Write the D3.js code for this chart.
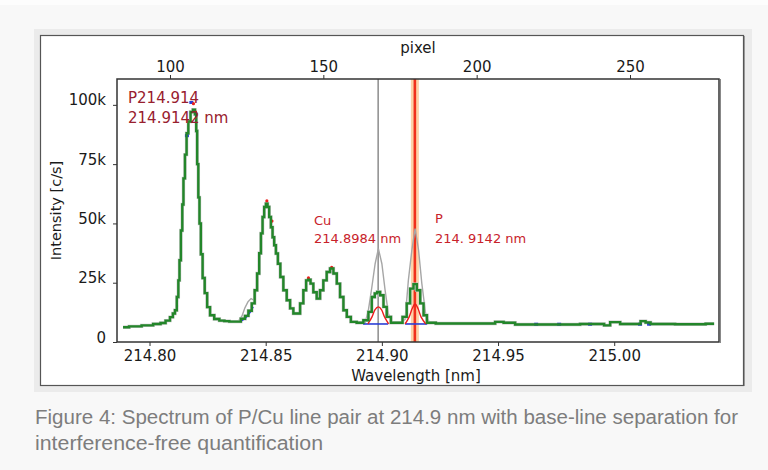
<!DOCTYPE html>
<html>
<head>
<meta charset="utf-8">
<script src="https://cdn.jsdelivr.net/npm/d3@7"></script>
<style>
  body { margin: 0; background: #f8f8f8; }
  svg { display: block; }
  .axis text { font-family: "DejaVu Sans", Verdana, sans-serif; font-size: 15px; fill: #1a1a1a; }
  .axis line { stroke: #333; }
</style>
</head>
<body>
<svg id="chart" width="768" height="470"></svg>
<script>
// measured spectrum (green), wavelength [nm] / intensity [k c/s]
const specWl = [214.7886, 214.7938, 214.7994, 214.8037, 214.8058, 214.8080, 214.8096, 214.8105, 214.8114, 214.8121,
  214.8127, 214.8131, 214.8139, 214.8143, 214.8149, 214.8156, 214.8163, 214.8171, 214.8182, 214.8192,
  214.8199, 214.8203, 214.8207, 214.8213, 214.8217, 214.8225, 214.8232, 214.8243, 214.8253, 214.8268,
  214.8289, 214.8312, 214.8332, 214.8355, 214.8382, 214.8404, 214.8418, 214.8433, 214.8447, 214.8458,
  214.8468, 214.8476, 214.8483, 214.8490, 214.8497, 214.8505, 214.8511, 214.8519, 214.8526, 214.8533,
  214.8540, 214.8548, 214.8557, 214.8569, 214.8583, 214.8598, 214.8612, 214.8626, 214.8641, 214.8655,
  214.8669, 214.8679, 214.8688, 214.8698, 214.8712, 214.8727, 214.8741, 214.8755, 214.8770, 214.8784,
  214.8799, 214.8813, 214.8827, 214.8842, 214.8856, 214.8877, 214.8906, 214.8935, 214.8949, 214.8964,
  214.8975, 214.8985, 214.9000, 214.9014, 214.9028, 214.9050, 214.9078, 214.9100, 214.9114, 214.9129,
  214.9143, 214.9158, 214.9172, 214.9187, 214.9201, 214.9263, 214.9466, 214.9509, 214.9539, 214.9608,
  214.9767, 214.9939, 214.9974, 214.9991, 215.0017, 215.0034, 215.0103, 215.0124, 215.0146, 215.0167,
  215.0357, 215.0430];
const specInt = [6.2, 6.6, 7.0, 7.6, 8.0, 9.0, 10.5, 12.0, 13.4, 19.0,
  26.0, 34.5, 47.0, 58.0, 69.0, 79.0, 88.0, 93.0, 97.0, 98.0,
  96.0, 89.0, 75.0, 61.0, 50.0, 37.0, 27.0, 20.6, 14.7, 11.3,
  9.7, 9.0, 8.8, 8.6, 8.6, 9.8, 11.0, 13.2, 16.3, 21.8,
  28.9, 37.4, 45.8, 52.7, 56.9, 58.3, 56.9, 52.7, 48.4, 44.2,
  40.8, 37.3, 33.0, 27.4, 21.8, 17.6, 14.2, 12.0, 12.0, 16.3,
  21.8, 26.0, 26.3, 24.6, 21.0, 18.3, 21.8, 26.0, 29.5, 31.0,
  28.9, 24.6, 19.0, 13.4, 10.6, 8.5, 8.1, 9.2, 12.7, 19.0,
  20.5, 21.1, 19.7, 14.8, 10.6, 8.1, 8.1, 10.6, 16.3, 22.5,
  24.4, 21.8, 16.3, 11.3, 8.1, 7.8, 7.8, 8.5, 8.1, 7.4,
  7.4, 7.6, 7.0, 8.4, 8.4, 7.6, 7.6, 8.8, 8.2, 7.6,
  7.5, 7.7];

// raw signal (gray) where it leaves the green curve
const rawBumpWl = [214.8381, 214.8398, 214.8411, 214.8424, 214.8437, 214.8450, 214.8458];
const rawBumpInt = [8.6, 11.0, 14.5, 17.0, 18.3, 17.6, 21.8];
const rawCuWl = [214.8906, 214.8928, 214.8942, 214.8957, 214.8971, 214.8985, 214.9000, 214.9014, 214.9028, 214.9043, 214.9078];
const rawCuInt = [8.1, 8.2, 13.4, 23.2, 33.0, 39.4, 33.0, 21.8, 12.0, 8.1, 8.1];
const rawPWl = [214.9078, 214.9100, 214.9114, 214.9129, 214.9143, 214.9158, 214.9172, 214.9190, 214.9208, 214.9263];
const rawPInt = [8.1, 9.5, 26.0, 38.7, 47.8, 38.7, 24.6, 10.6, 8.0, 7.8];

// separated line profiles (red)
const netCuWl = [214.8940, 214.8957, 214.8970, 214.8985, 214.8999, 214.9012, 214.9029];
const netCuInt = [7.6, 10.5, 13.5, 14.8, 13.5, 10.5, 7.6];
const netPWl = [214.9100, 214.9117, 214.9130, 214.9143, 214.9156, 214.9169, 214.9189];
const netPInt = [7.6, 10.5, 14.0, 16.0, 14.0, 10.5, 7.6];
const tipWl = [214.8189, 214.8198, 214.8505, 214.8527, 214.8684, 214.8784];
const tipInt = [100.5, 97.0, 59.5, 51.0, 27.0, 31.5];

// background (blue)
const baseCuWl = [214.8919, 214.9027];
const basePWl = [214.9100, 214.9195];
const baseLevel = 7.6;
const bgEdgeWl = [214.8390, 214.8412, 214.8433, 214.8446];
const bgEdgeInt = [8.6, 10.0, 12.5, 14.8];
const bgDotWl = [214.8161, 214.8180, 214.9664, 214.9763, 214.9896, 215.0111, 215.0150];
const bgDotInt = [87.0, 101.0, 7.5, 7.5, 7.5, 7.5, 7.5];

const cuLine = 214.8984;
const pLine = 214.9142;

const pixelTicks = [100, 150, 200, 250];
const wlTicks = [214.80, 214.85, 214.90, 214.95, 215.00];
const intTicks = [0, 25, 50, 75, 100];

const svg = d3.select("#chart");
const width = +svg.attr("width");
const margin = { top: 79, right: 49, bottom: 128, left: 117 };
const innerWidth = width - margin.left - margin.right;
const innerHeight = +svg.attr("height") - margin.top - margin.bottom;

// page + figure frame
svg.append("rect").attr("width", 768).attr("height", 5).attr("fill", "#fdfdfd");
svg.append("rect").attr("x", 34).attr("y", 29).attr("width", 718).attr("height", 363).attr("fill", "#ebebeb");
svg.append("rect").attr("x", 40.5).attr("y", 35.5).attr("width", 703).attr("height", 350)
  .attr("fill", "#fff").attr("stroke", "#555").attr("stroke-width", 1.2);
svg.append("line").attr("x1", 744.5).attr("x2", 744.5).attr("y1", 36).attr("y2", 386)
  .attr("stroke", "#999").attr("stroke-width", 1);

const g = svg.append("g").attr("transform", `translate(${margin.left},${margin.top})`);

const x = d3.scaleLinear().domain([214.7860, 215.0451]).range([0, innerWidth]);
const xPix = d3.scaleLinear().domain([82.72, 279.02]).range([0, innerWidth]);
const y = d3.scaleLinear().domain([0, 110.9]).range([innerHeight, 0]);

// marker lines
g.append("rect")
  .attr("x", x(pLine) - 4).attr("width", 8)
  .attr("y", 0).attr("height", innerHeight)
  .attr("fill", "#fdd3a8");
g.append("line")
  .attr("x1", x(cuLine)).attr("x2", x(cuLine)).attr("y1", 0).attr("y2", innerHeight)
  .attr("stroke", "#8c8c8c").attr("stroke-width", 1.5);
g.append("line")
  .attr("x1", x(pLine)).attr("x2", x(pLine)).attr("y1", 0).attr("y2", innerHeight)
  .attr("stroke", "#f0301c").attr("stroke-width", 2.6);

const zip = (a, b) => a.map((d, i) => [d, b[i]]);
const lineStep = d3.line().x(d => x(d[0])).y(d => y(d[1])).curve(d3.curveStep);
const lineLin = d3.line().x(d => x(d[0])).y(d => y(d[1]));

// gray raw signal
[zip(rawBumpWl, rawBumpInt), zip(rawCuWl, rawCuInt), zip(rawPWl, rawPInt)].forEach(seg => {
  g.append("path").attr("d", lineLin(seg))
    .attr("fill", "none").attr("stroke", "#a6a6a6").attr("stroke-width", 1.4);
});
g.append("path").attr("d", lineStep(zip(specWl, specInt)))
  .attr("fill", "none").attr("stroke", "#c6c6c6").attr("stroke-width", 3.4);

// blue background
[zip(baseCuWl, [baseLevel, baseLevel]), zip(basePWl, [baseLevel, baseLevel]), zip(bgEdgeWl, bgEdgeInt)].forEach(seg => {
  g.append("path").attr("d", lineLin(seg))
    .attr("fill", "none").attr("stroke", "#2a3fd6").attr("stroke-width", 1.6);
});
g.selectAll(".bgdot").data(zip(bgDotWl, bgDotInt)).enter().append("rect")
  .attr("class", "bgdot")
  .attr("x", d => x(d[0]) - 2).attr("y", d => y(d[1]) - 1.5)
  .attr("width", 4).attr("height", 3).attr("fill", "#2a3fd6");

// red separated lines
[zip(netCuWl, netCuInt), zip(netPWl, netPInt)].forEach(seg => {
  g.append("path").attr("d", d3.line().x(d => x(d[0])).y(d => y(d[1])).curve(d3.curveCardinal)(seg))
    .attr("fill", "none").attr("stroke", "#ee1c1c").attr("stroke-width", 1.4);
});
g.selectAll(".tip").data(zip(tipWl, tipInt)).enter().append("circle")
  .attr("class", "tip")
  .attr("cx", d => x(d[0])).attr("cy", d => y(d[1])).attr("r", 1.6).attr("fill", "#e8201c");

// green spectrum
g.append("path").attr("d", lineStep(zip(specWl, specInt)))
  .attr("fill", "none").attr("stroke", "#23862a").attr("stroke-width", 2.4);

// axes
g.append("g")
  .attr("class", "axis")
  .attr("transform", `translate(0,${innerHeight})`)
  .call(d3.axisBottom(x).tickValues(wlTicks).tickSize(4).tickPadding(4.5).tickFormat(d3.format(".2f")))
  .call(a => a.select(".domain").remove());

g.append("g")
  .attr("class", "axis")
  .call(d3.axisTop(xPix).tickValues(pixelTicks).tickSize(4).tickPadding(3))
  .call(a => a.select(".domain").remove());

g.append("g")
  .attr("class", "axis")
  .call(d3.axisLeft(y).tickValues(intTicks).tickSize(4).tickPadding(7).tickFormat(d => d === 0 ? "0" : d + "k"))
  .call(a => a.select(".domain").remove())
  .call(a => a.selectAll("text").attr("dy", "0em"));

g.append("rect")
  .attr("width", innerWidth).attr("height", innerHeight)
  .attr("fill", "none").attr("stroke", "#333").attr("stroke-width", 1.5);
g.append("line")
  .attr("x1", innerWidth + 1.5).attr("x2", innerWidth + 1.5).attr("y1", 0).attr("y2", innerHeight + 1)
  .attr("stroke", "#888").attr("stroke-width", 1);

// axis titles
const axisFont = "'DejaVu Sans', Verdana, sans-serif";
svg.append("text").attr("x", margin.left + innerWidth / 2).attr("y", 53)
  .attr("text-anchor", "middle").attr("font-family", axisFont).attr("font-size", 15).attr("fill", "#1a1a1a")
  .text("pixel");
svg.append("text").attr("x", margin.left + innerWidth / 2 - 2).attr("y", 381)
  .attr("text-anchor", "middle").attr("font-family", axisFont).attr("font-size", 15).attr("fill", "#1a1a1a")
  .text("Wavelength [nm]");
svg.append("text").attr("transform", `translate(61,${margin.top + innerHeight / 2}) rotate(-90)`)
  .attr("text-anchor", "middle").attr("font-family", axisFont).attr("font-size", 14.5).attr("fill", "#1a1a1a")
  .text("Intensity [c/s]");

// annotations
const note = (tx, ty, txt, size, col) => svg.append("text").attr("x", tx).attr("y", ty)
  .attr("font-family", axisFont).attr("font-size", size).attr("fill", col).text(txt);
note(128, 103, "P214.914", 15, "#98202e");
note(128, 123, "214.9142 nm", 15, "#98202e");
note(314, 225, "Cu", 13, "#c8222a");
note(314, 243, "214.8984 nm", 13, "#c8222a");
note(435, 223, "P", 13, "#c8222a");
note(435, 243, "214. 9142 nm", 13, "#c8222a");

// caption
const capFont = "'Liberation Sans Narrow', 'Arial Narrow', sans-serif";
svg.append("text").attr("x", 35).attr("y", 423.5)
  .attr("font-family", capFont).attr("font-size", 20).attr("fill", "#7d7d7d")
  .attr("textLength", 703).attr("lengthAdjust", "spacingAndGlyphs")
  .text("Figure 4: Spectrum of P/Cu line pair at 214.9 nm with base-line separation for");
svg.append("text").attr("x", 35).attr("y", 449.5)
  .attr("font-family", capFont).attr("font-size", 20).attr("fill", "#7d7d7d")
  .attr("textLength", 288).attr("lengthAdjust", "spacingAndGlyphs")
  .text("interference-free quantification");
</script>
</body>
</html>
